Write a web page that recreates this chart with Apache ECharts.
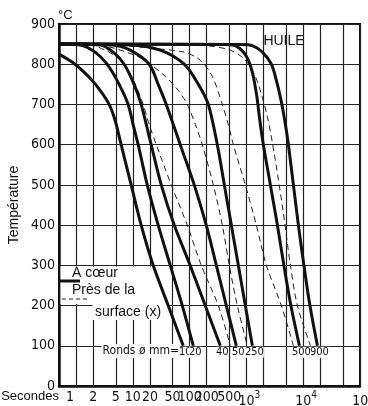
<!DOCTYPE html>
<html><head><meta charset="utf-8">
<script src="https://cdn.jsdelivr.net/npm/echarts@6/dist/echarts.min.js"></script>
<style>html,body{margin:0;padding:0;background:#fff}#c{width:368px;height:406px}</style>
</head><body><div id="c"></div>
<script>
const NARROW = "'Liberation Sans Narrow','DejaVu Sans Condensed',sans-serif";
const SANS = "'Liberation Sans',Arial,sans-serif";

// x-axis grid / tick values (seconds, log scale) and their labels
const xTickValues = [1,2,5,10,20,50,100,200,500,1000,2000,5000,10000,20000,50000,100000];
const xTickLabels = ['1','2','5','10','20','50','100','200','500','{a|10}{s|3}','','','{a|10}{s|4}','','','{a|10}{s|5}'];
// round bar diameters (mm) for the core curves
const roundDiameters = ['10','20','40','50','250','500','900'];

// "A cœur" curves : [seconds, °C]
const core10  = [[0.5,825],[0.96,800],[1.77,765],[2.65,735],[3.82,700],[4.87,660],[6.09,605],[9.33,500],[14.0,400],[22.8,300],[41.9,200],[77.1,100]];
const core20  = [[0.5,850],[1.18,848],[2.16,830],[3.52,800],[5.73,750],[8.26,700],[10.1,650],[12.4,600],[17.9,500],[27.9,400],[45.5,300],[74.1,200],[116,100]];
const core40  = [[0.5,850],[2.65,848],[4.49,830],[7.02,800],[10.5,750],[14.0,700],[21.0,600],[31.6,500],[53.5,400],[102,300],[188,200],[347,100]];
const core50  = [[0.5,850],[4.31,848],[8.96,835],[19.4,800],[27.9,750],[38.7,700],[68.3,600],[120.5,500],[196,400],[295,300],[442,200],[664,100]];
const core250 = [[0.5,850],[8.96,848],[30.3,835],[80.3,800],[142,750],[213,700],[307,600],[408,500],[542,400],[720,300],[956,200],[1271,100]];
const core500 = [[0.5,850],[425,849],[664,845],[996,820],[1271,780],[1525,720],[1723,660],[1987,600],[2640,500],[3508,400],[4567,300],[6069,200],[8570,100]];
const core900 = [[0.5,850],[847,849],[1271,846],[1907,830],[2749,800],[3508,750],[4210,700],[4855,650],[5483,600],[6718,500],[8227,400],[10287,300],[13128,200],[17800,100]];

// "Près de la surface (x)" curves : [seconds, °C]
const surfA = [[0.5,850],[1.77,848],[3.25,835],[5.5,815],[8.26,785],[11.4,745],[15.2,700],[19.4,650],[25.8,600],[47.4,500],[90.7,400],[160,300],[320,200],[520,100]];
const surfB = [[0.5,850],[2.65,847],[11.0,822],[20.2,800],[37.1,770],[63,735],[90.7,700],[126,650],[167,600],[261,500],[376,400],[499,300],[691,200],[1037,100]];
const surfC = [[0.5,850],[3.25,849],[8.96,845],[20.2,840],[80.3,830],[154,810],[250,770],[376,700],[480,650],[588,600],[956,500],[1495,400],[2244,300],[4126,200],[6718,100]];
const surfD = [[0.5,850],[68.3,849],[231,845],[520,835],[882,815],[1271,785],[1621,750],[2337,670],[3233,560],[4476,430],[5947,300],[7903,200],[13397,100]];

const coreCurves = [core10, core20, core40, core50, core250, core500, core900];
const surfCurves = [surfA, surfB, surfC, surfD];

const chart = echarts.init(document.getElementById('c'), null, {renderer:'canvas'});

const series = [];
series.push({
  type:'line', name:'grid', data:[], z:1, silent:true,
  markLine:{
    silent:true, symbol:['none','none'], animation:false, z:1,
    lineStyle:{color:'#222', width:1.2, type:'solid'},
    label:{show:true, position:'start', distance:4, fontFamily:NARROW, fontSize:14, color:'#111',
      rich:{a:{fontFamily:NARROW, fontSize:14, color:'#111', verticalAlign:'bottom', lineHeight:18},
            s:{fontFamily:NARROW, fontSize:10, color:'#111', verticalAlign:'top', lineHeight:18}}},
    data: xTickValues.map((v,i)=>{
      const lbl = xTickLabels[i];
      const item = {xAxis:v, label:{show: lbl !== '', formatter: () => lbl}};
      if (v === 1) item.label.offset = [-6,0];
      if (lbl.indexOf('{s|') >= 0) item.label.offset = [3,0];
      return item;
    })
  }
});
coreCurves.forEach((c,i)=>{
  series.push({
    type:'line', name:'A cœur Ø' + roundDiameters[i] + ' mm',
    data: c.map((p,j)=> j === c.length-1 ? {value:p, label:{show:true, formatter: roundDiameters[i]}} : p),
    symbol:'circle', symbolSize:0, showSymbol:true,
    smooth:0.3, z:10,
    lineStyle:{width:3, color:'#111'},
    label:{show:false, position:'bottom', distance:1, offset:[2,0], fontFamily:NARROW, fontSize:11, color:'#111', backgroundColor:'#fff', padding:0}
  });
});
surfCurves.forEach((c,i)=>{
  series.push({
    type:'line', name:'Près de la surface ' + (i+1),
    data:c, showSymbol:false, symbol:'none', smooth:0.3, z:9,
    lineStyle:{width:1, color:'#222', type:[6,4]}
  });
});

chart.setOption({
  animation:false,
  backgroundColor:'#fff',
  grid:{left:59, right:8, top:24, bottom:20, show:true, borderColor:'#111', borderWidth:2, containLabel:false, outerBoundsMode:'none'},
  xAxis:{
    type:'log', logBase:10, min:0.5, max:100000,
    name:'Secondes', nameLocation:'start', nameGap:0, nameMoveOverlap:false,
    nameTextStyle:{fontFamily:SANS, fontSize:13, color:'#111', verticalAlign:'top', padding:[4,0,0,0]},
    axisLine:{show:true, lineStyle:{color:'#111', width:2.5}},
    axisTick:{show:false}, axisLabel:{show:false}, splitLine:{show:false}, minorSplitLine:{show:false}
  },
  yAxis:{
    type:'value', min:0, max:900, interval:100,
    name:'Température', nameLocation:'middle', nameGap:38, nameMoveOverlap:false,
    nameTextStyle:{fontFamily:SANS, fontSize:14, color:'#111'},
    axisLine:{show:true, lineStyle:{color:'#111', width:2.5}},
    axisTick:{show:false},
    axisLabel:{fontFamily:NARROW, fontSize:14, color:'#111', margin:4},
    splitLine:{show:true, lineStyle:{color:'#222', width:1.2}}
  },
  graphic:[
    {type:'polygon', z:6, silent:true, shape:{points:[[60.5,266.5],[169,266.5],[169,320],[92.5,320],[92.5,304],[60.5,304]]}, style:{fill:'#fff'}},
    {type:'line', z:11, shape:{x1:60,y1:281,x2:80,y2:281}, style:{stroke:'#111', lineWidth:3}},
    {type:'line', z:11, shape:{x1:62,y1:299,x2:90,y2:299}, style:{stroke:'#222', lineWidth:1, lineDash:[4,3]}},
    {type:'text', z:11, x:72, y:273, style:{text:'A cœur', font:'14px ' + SANS, fill:'#111', align:'left', verticalAlign:'middle'}},
    {type:'text', z:11, x:72, y:290, style:{text:'Près de la', font:'14px ' + SANS, fill:'#111', align:'left', verticalAlign:'middle'}},
    {type:'text', z:11, x:95, y:312, style:{text:'surface (x)', font:'14px ' + SANS, fill:'#111', align:'left', verticalAlign:'middle'}},
    {type:'text', z:11, x:58, y:15, style:{text:'°C', font:'13px ' + SANS, fill:'#111', align:'left', verticalAlign:'middle'}},
    {type:'text', z:11, x:284, y:41, style:{text:'HUILE', font:'14px ' + SANS, fill:'#111', align:'center', verticalAlign:'middle'}},
    {type:'text', z:11, x:180, y:351, style:{text:'Ronds ø mm=', font:'12px ' + NARROW, fill:'#111', align:'right', verticalAlign:'middle', backgroundColor:'#fff', padding:[1,1]}}
  ],
  series: series
});
</script>
</body></html>
